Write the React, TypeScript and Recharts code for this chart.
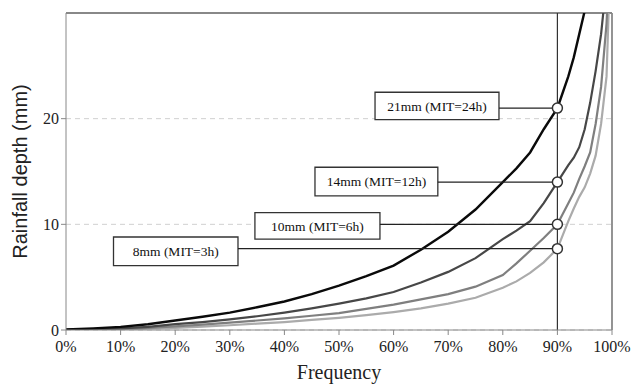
import React from 'react';
import {
  LineChart,
  Line,
  XAxis,
  YAxis,
  CartesianGrid,
  ReferenceLine,
  ReferenceArea,
  ReferenceDot,
} from 'recharts';

// cumulative frequency (%) of rainfall depth, one curve per MIT
const frequency = [0, 5, 10, 15, 20, 25, 30, 35, 40, 45, 50, 55, 60, 65, 70, 75, 80, 82.5, 85, 87.5, 90, 91, 92, 93, 94, 95, 96, 97, 98, 99, 100];
const mit24h = [0.05, 0.15, 0.3, 0.55, 0.9, 1.25, 1.65, 2.15, 2.7, 3.4, 4.2, 5.1, 6.1, 7.6, 9.3, 11.4, 14, 15.3, 16.8, 19, 21, 22.5, 24, 25.8, 28, 30.2, 33, 36, 40, 44, 50];
const mit12h = [0.02, 0.08, 0.15, 0.3, 0.55, 0.75, 1.0, 1.3, 1.65, 2.05, 2.5, 3.0, 3.6, 4.5, 5.5, 6.8, 8.6, 9.4, 10.3, 12, 14, 14.8, 15.6, 16.3, 17.3, 19, 21.5, 24.5, 28, 33, 42];
const mit6h = [0.01, 0.05, 0.1, 0.2, 0.35, 0.5, 0.7, 0.9, 1.1, 1.35, 1.6, 2.0, 2.4, 2.9, 3.4, 4.1, 5.2, 6.3, 7.5, 8.7, 10, 11, 12, 13, 14.3, 15.5, 16.8, 19.5, 23, 29, 40];
const mit3h = [0, 0.02, 0.05, 0.12, 0.2, 0.32, 0.45, 0.6, 0.75, 0.95, 1.15, 1.4, 1.7, 2.05, 2.5, 3.05, 4.0, 4.6, 5.4, 6.4, 7.7, 9, 10.3, 11.5, 12.6, 13.5, 14.8, 16.5, 19.5, 24, 40];

const xTicks = [0, 10, 20, 30, 40, 50, 60, 70, 80, 90, 100];
const yTicks = [0, 10, 20];

// depth read at 90% frequency
const markFreq = 90;
const markDepths = [21, 14, 10, 7.7];
const markLabels = ['21mm (MIT=24h)', '14mm (MIT=12h)', '10mm (MIT=6h)', '8mm (MIT=3h)'];

// label boxes, in chart coordinates (x %, y mm)
const boxes = [
  { x1: 56.6, x2: 79.3, y1: 19.9, y2: 22.5 },
  { x1: 45.6, x2: 68.1, y1: 12.7, y2: 15.4 },
  { x1: 34.6, x2: 57.5, y1: 8.6, y2: 11.1 },
  { x1: 8.7, x2: 31.5, y1: 6.1, y2: 8.8 },
];

const data = frequency.map((f, i) => ({
  f,
  h24: mit24h[i],
  h12: mit12h[i],
  h6: mit6h[i],
  h3: mit3h[i],
}));

const serif = '"Liberation Serif", "Times New Roman", serif';
const sans = '"Liberation Sans", Arial, sans-serif';

const YTitle = (props: any) => {
  const vb = props.viewBox || { x: 0, y: 0, width: 66, height: 317 };
  const cx = vb.x + 20;
  const cy = vb.y + vb.height / 2;
  return (
    <text
      x={cx}
      y={cy}
      transform={`rotate(-90, ${cx}, ${cy})`}
      textAnchor="middle"
      dominantBaseline="central"
      fill="#222"
      fontSize={20}
      fontFamily={sans}
    >
      Rainfall depth (mm)
    </text>
  );
};

const App: React.FC = () => {
  return (
    <div style={{ position: 'absolute', left: 0, top: 0, width: 632, height: 385, background: '#fff' }}>
      <LineChart width={632} height={385} data={data} margin={{ top: 13, right: 20, bottom: 0, left: 0 }}>
        <CartesianGrid vertical={false} stroke="#d0d0d0" strokeDasharray="5 4" />
        <XAxis
          type="number"
          dataKey="f"
          domain={[0, 100]}
          ticks={xTicks}
          interval={0}
          tickFormatter={(v) => `${v}%`}
          height={55}
          stroke="#888"
          tickSize={5}
          tickMargin={6}
          tick={{ fill: '#222', fontSize: 16, fontFamily: serif }}
          label={{ value: 'Frequency', position: 'insideBottom', offset: 6, fill: '#222', fontSize: 20, fontFamily: serif }}
        />
        <YAxis
          type="number"
          domain={[0, 30]}
          allowDataOverflow
          ticks={yTicks}
          interval={0}
          width={66}
          stroke="#888"
          tickSize={5}
          tick={{ fill: '#222', fontSize: 16, fontFamily: serif }}
          label={<YTitle />}
        />
        <ReferenceLine y={30} stroke="#888" strokeWidth={1.8} />
        <ReferenceLine x={100} stroke="#888" strokeWidth={1.8} />
        <ReferenceLine x={markFreq} stroke="#333" strokeWidth={1.2} />
        <Line type="linear" dataKey="h3" stroke="#ababab" strokeWidth={2.2} dot={false} isAnimationActive={false} />
        <Line type="linear" dataKey="h6" stroke="#7f7f7f" strokeWidth={2.2} dot={false} isAnimationActive={false} />
        <Line type="linear" dataKey="h12" stroke="#474747" strokeWidth={2.2} dot={false} isAnimationActive={false} />
        <Line type="linear" dataKey="h24" stroke="#0a0a0a" strokeWidth={2.4} dot={false} isAnimationActive={false} />
        {markDepths.map((d, i) => (
          <ReferenceLine
            key={`lead-${i}`}
            segment={[{ x: boxes[i].x2, y: d }, { x: markFreq, y: d }]}
            stroke="#222"
            strokeWidth={1.3}
          />
        ))}
        {boxes.map((b, i) => (
          <ReferenceArea
            key={`box-${i}`}
            x1={b.x1}
            x2={b.x2}
            y1={b.y1}
            y2={b.y2}
            fill="#fff"
            fillOpacity={1}
            stroke="#333"
            strokeWidth={1.3}
            label={{ value: markLabels[i], position: 'center', fill: '#111', fontSize: 13.5, fontFamily: serif }}
          />
        ))}
        {markDepths.map((d, i) => (
          <ReferenceDot key={`dot-${i}`} x={markFreq} y={d} r={5} fill="#fff" stroke="#333" strokeWidth={1.5} />
        ))}
      </LineChart>
    </div>
  );
};

export default App;
